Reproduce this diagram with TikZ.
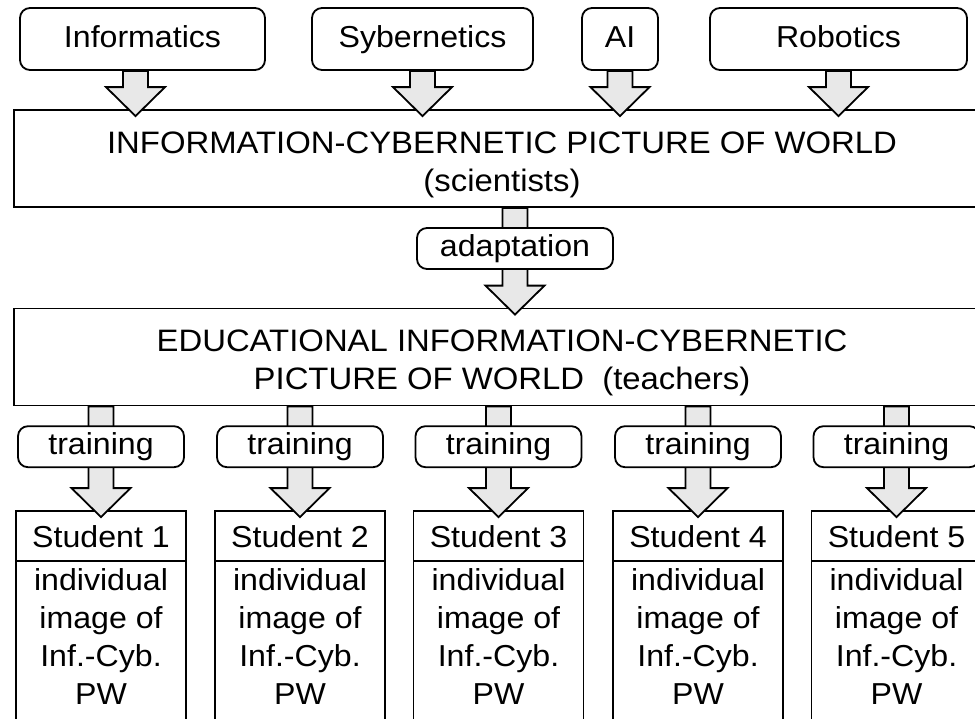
\documentclass[tikz,border=0pt]{standalone}
\usepackage{fontspec}
\setmainfont{Liberation Sans}[FakeStretch=1.06]
\usetikzlibrary{positioning,calc}
\pgfdeclarelayer{front}
\pgfsetlayers{main,front}
\tikzset{%
  % Specifications for style of nodes:
            base/.style = {rectangle, draw=black, line width=1.8pt, inner sep=0pt,
                           text height=22pt, text depth=6pt,
                           text centered, font=\fontsize{30.3}{37.7}\selectfont},
  field/.style   = {base, rounded corners=10pt, minimum height=62pt},
  stage/.style   = {base, rounded corners=10pt, minimum height=41pt, fill=white},
  world/.style   = {base, minimum width=976pt, minimum height=97pt},
  wtext/.style   = {align=center, inner sep=0pt, font=\fontsize{31}{38}\selectfont},
  student/.style = {base, minimum width=170pt, minimum height=50pt, text depth=0pt},
  simage/.style  = {base, minimum width=170pt, align=center, text height=,
                    text depth=90pt, inner ysep=8pt},
  % fat grey arrow, tip goes a little into the target box
  fat/.style = {draw=black, line width=1.8pt, fill=gray!18,
                to path={let \p1=(\tikztostart), \p2=(\tikztotarget) in
                  (\x1-12.5pt,\y1) -- (\x1-12.5pt,\y2+22pt) -- (\x1-29.5pt,\y2+22pt)
                  -- (\x1,\y2-7pt) -- (\x1+29.5pt,\y2+22pt) -- (\x1+12.5pt,\y2+22pt)
                  -- (\x1+12.5pt,\y1) -- cycle}},
}

\begin{document}
\begin{tikzpicture}[x=1pt, y=-1pt]
  \useasboundingbox (0,0) rectangle (975,718);

  % Sciences on top
  \node (info)  [field, minimum width=245pt] at (142.5,39) {Informatics};
  \node (syb)   [field, minimum width=221pt] at (422.5,39) {Sybernetics};
  \node (ai)    [field, minimum width=76pt]  at (620,39)   {AI};
  \node (robot) [field, minimum width=257pt] at (838.5,39) {Robotics};

  % The two pictures of world
  \node (icpw) [world, label={[wtext, yshift=-6pt]center:INFORMATION-CYBERNETIC PICTURE OF WORLD\\(scientists)}] at (502,158.5) {};
  \node (edu)  [world, label={[wtext, yshift=-6pt]center:EDUCATIONAL INFORMATION-CYBERNETIC\\PICTURE OF WORLD\ \ (teachers)}] at (502,357) {};

  % Students
  \foreach \i/\x in {1/101, 2/300, 3/498.5, 4/698, 5/896.5} {
    \node (s\i) [student] at (\x,536) {Student \i};
    \node (b\i) [simage, below=-1.8pt of s\i] {individual\\image of\\Inf.-Cyb.\\PW};
  }

  % Labels on the arrows (drawn above them)
  \begin{pgfonlayer}{front}
    \node (adapt) [stage, minimum width=196pt] at (515,248.5) {adaptation};
    \foreach \i in {1,...,5}
      \node (t\i) [stage, minimum width=166pt, above=42pt of s\i.north] {training};
  \end{pgfonlayer}

  % Arrows
  \draw[fat] ([xshift=-7pt]info.south) to ([xshift=-7pt]info.south |- icpw.north);
  \foreach \f in {syb, ai, robot}
    \draw[fat] (\f.south) to (\f.south |- icpw.north);
  \draw[fat] (icpw.south -| adapt) to (adapt |- edu.north);
  \foreach \i in {1,...,5}
    \draw[fat] (edu.south -| s\i) to (s\i.north);
\end{tikzpicture}
\end{document}
